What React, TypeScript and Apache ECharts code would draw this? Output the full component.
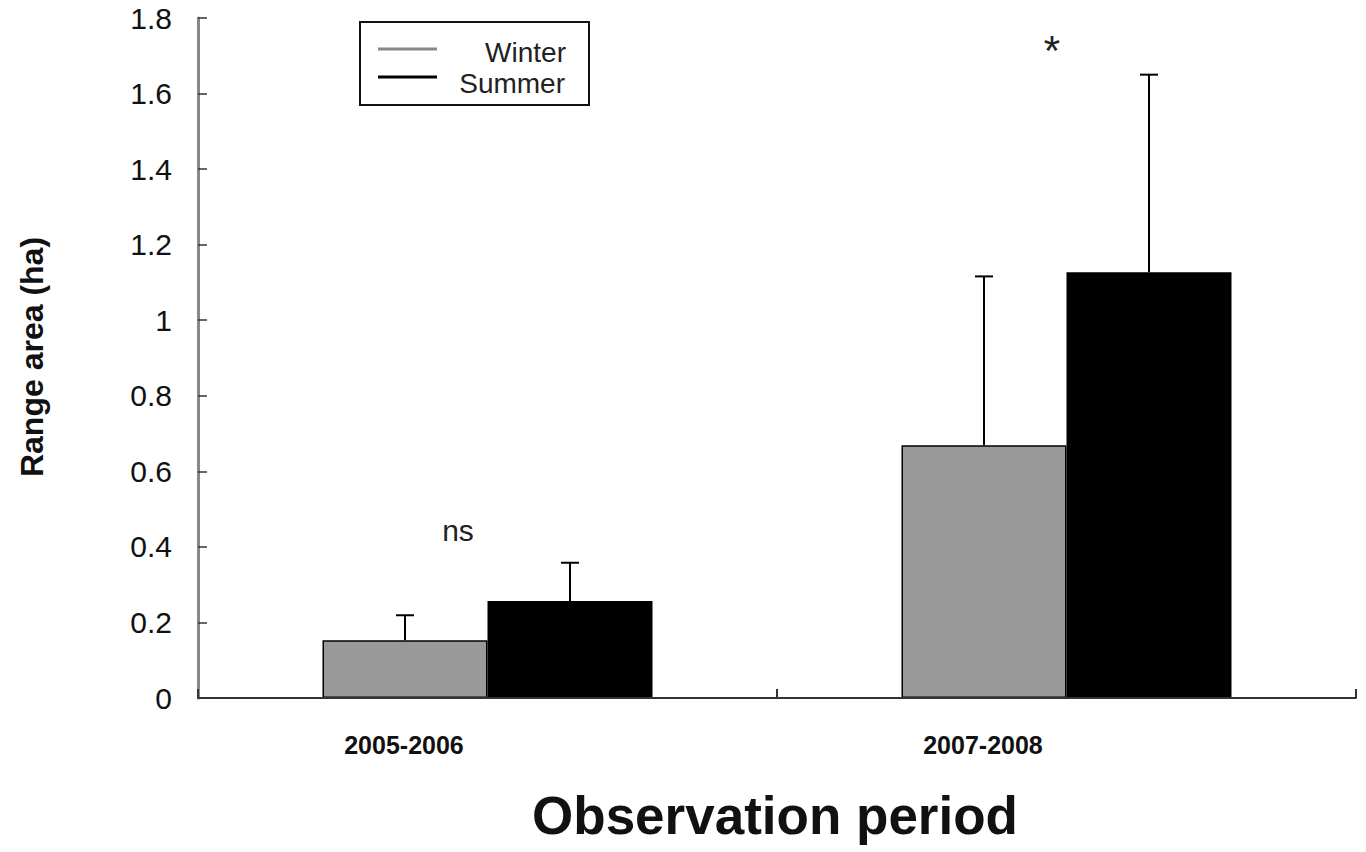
import React, { useEffect, useRef } from "react";
import * as echarts from "echarts";

const categories = ["2005-2006", "2007-2008"];
const winterValues = [0.153, 0.669];
const summerValues = [0.257, 1.127];
const winterErrors = [0.066, 0.447];
const summerErrors = [0.101, 0.523];
const seriesNames = ["Winter", "Summer"];
const annotations = ["ns", "*"];
const yTitle = "Range area (ha)";
const xTitle = "Observation period";

const FONT = "'Liberation Sans', Arial, Helvetica, sans-serif";
const BAR_W = 165;

export default function App() {
  const ref = useRef<HTMLDivElement>(null);
  useEffect(() => {
    if (!ref.current) return;
    const chart = echarts.init(ref.current, undefined, { renderer: "svg" });

    const errData = (vals: number[], errs: number[]) =>
      vals.map((v, i) => [i, v, errs[i]]);

    const errRender = (offsetSign: number) => (params: any, api: any) => {
      const cat = api.value(0);
      const val = api.value(1);
      const err = api.value(2);
      const base = api.coord([cat, val]);
      const top = api.coord([cat, val + err]);
      const x = base[0] + (offsetSign * BAR_W) / 2;
      return {
        type: "group",
        children: [
          {
            type: "line",
            shape: { x1: x, y1: base[1], x2: x, y2: top[1] },
            style: { stroke: "#000", lineWidth: 2 },
          },
          {
            type: "line",
            shape: { x1: x - 9, y1: top[1], x2: x + 9, y2: top[1] },
            style: { stroke: "#000", lineWidth: 2 },
          },
        ],
      };
    };

    chart.setOption({
      animation: false,
      backgroundColor: "#fff",
      grid: { left: 198, right: 10, top: 18, bottom: 154, containLabel: false },
      xAxis: {
        type: "category",
        data: categories,
        axisLine: { show: true, lineStyle: { color: "#333", width: 2 } },
        axisTick: {
          show: true,
          inside: true,
          interval: 0,
          alignWithLabel: false,
          length: 9,
          lineStyle: { color: "#333", width: 2 },
        },
        axisLabel: {
          fontFamily: FONT,
          fontWeight: "bold",
          fontSize: 25,
          color: "#111",
          margin: 34,
          padding: [0, 167, 0, 0],
        },
        z: 10,
      },
      yAxis: {
        type: "value",
        min: 0,
        max: 1.8,
        interval: 0.2,
        splitLine: { show: false },
        axisLine: { show: true, lineStyle: { color: "#888", width: 3 } },
        axisTick: { show: true, inside: true, length: 9, lineStyle: { color: "#333", width: 1.5 } },
        axisLabel: {
          fontFamily: FONT,
          fontSize: 30,
          color: "#111",
          margin: 26,
        },
      },
      series: [
        {
          name: seriesNames[0],
          type: "bar",
          data: winterValues,
          barWidth: BAR_W,
          barGap: "0%",
          itemStyle: { color: "#999999", borderColor: "#000", borderWidth: 1.5 },
        },
        {
          name: seriesNames[1],
          type: "bar",
          data: summerValues,
          barWidth: BAR_W,
          barGap: "0%",
          itemStyle: { color: "#000000", borderColor: "#000", borderWidth: 1.5 },
        },
        {
          type: "custom",
          renderItem: errRender(-1),
          data: errData(winterValues, winterErrors),
          encode: { x: 0, y: 1 },
          z: 5,
        },
        {
          type: "custom",
          renderItem: errRender(1),
          data: errData(summerValues, summerErrors),
          encode: { x: 0, y: 1 },
          z: 5,
        },
      ],
      graphic: [
        {
          type: "text",
          x: 32,
          y: 357,
          rotation: Math.PI / 2,
          style: {
            text: yTitle,
            fontFamily: FONT,
            fontWeight: "bold",
            fontSize: 32,
            fill: "#111",
            align: "center",
            verticalAlign: "middle",
          },
        },
        {
          type: "text",
          x: 775,
          y: 815,
          style: {
            text: xTitle,
            fontFamily: FONT,
            fontWeight: "bold",
            fontSize: 53,
            fill: "#111",
            align: "center",
            verticalAlign: "middle",
          },
        },
        {
          type: "text",
          x: 458,
          y: 530,
          style: {
            text: annotations[0],
            fontFamily: FONT,
            fontSize: 30,
            fill: "#222",
            align: "center",
            verticalAlign: "middle",
          },
        },
        {
          type: "text",
          x: 1052,
          y: 50,
          style: {
            text: annotations[1],
            fontFamily: FONT,
            fontSize: 42,
            fill: "#222",
            align: "center",
            verticalAlign: "middle",
          },
        },
        {
          type: "rect",
          shape: { x: 360, y: 22, width: 229, height: 83 },
          style: { fill: "#fff", stroke: "#111", lineWidth: 2 },
        },
        {
          type: "line",
          shape: { x1: 378, y1: 49, x2: 437, y2: 49 },
          style: { stroke: "#888", lineWidth: 3 },
        },
        {
          type: "line",
          shape: { x1: 378, y1: 77, x2: 437, y2: 77 },
          style: { stroke: "#000", lineWidth: 3 },
        },
        {
          type: "text",
          x: 566,
          y: 52,
          style: {
            text: seriesNames[0],
            fontFamily: FONT,
            fontSize: 28,
            fill: "#222",
            align: "right",
            verticalAlign: "middle",
          },
        },
        {
          type: "text",
          x: 565,
          y: 83,
          style: {
            text: seriesNames[1],
            fontFamily: FONT,
            fontSize: 28,
            fill: "#222",
            align: "right",
            verticalAlign: "middle",
          },
        },
      ],
    });
    return () => chart.dispose();
  }, []);
  return (
    <div
      ref={ref}
      style={{ position: "fixed", left: 0, top: 0, width: 1366, height: 852, background: "#fff" }}
    />
  );
}
